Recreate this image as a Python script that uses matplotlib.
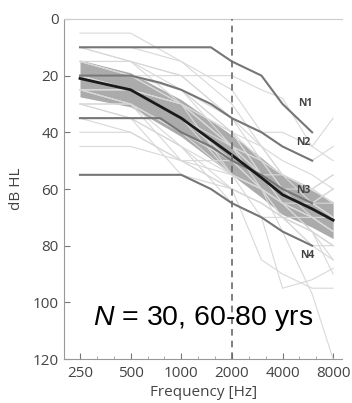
import numpy as np
import matplotlib
matplotlib.use('Agg')
import matplotlib.pyplot as plt
from matplotlib.ticker import FixedLocator, NullFormatter

plt.rcParams['font.family'] = ['Open Sans', 'DejaVu Sans']
plt.rcParams['mathtext.fontset'] = 'custom'
plt.rcParams['mathtext.it'] = 'Liberation Sans:italic'
plt.rcParams['mathtext.rm'] = 'Liberation Sans'

# audiogram frequencies of the individual listeners (Hz)
freqs = [250, 500, 1000, 2000, 3000, 4000, 6000, 8000]

# thresholds of the 30 listeners (dB HL)
listeners = [
    [5, 5, 15, 30, 45, 55, 60, 65],
    [10, 15, 20, 35, 50, 60, 65, 70],
    [15, 15, 25, 45, 55, 60, 70, 75],
    [20, 20, 20, 20, 25, 28, 45, 50],
    [20, 25, 30, 40, 55, 65, 70, 75],
    [25, 30, 40, 50, 55, 60, 65, 60],
    [25, 25, 35, 55, 60, 65, 75, 80],
    [30, 30, 50, 60, 65, 70, 70, 75],
    [40, 40, 50, 50, 55, 60, 65, 70],
    [45, 45, 50, 55, 60, 70, 80, 85],
    [15, 20, 30, 45, 60, 75, 97, 120],
    [20, 25, 35, 45, 55, 65, 75, 90],
    [25, 30, 40, 55, 70, 95, 92, 88],
    [30, 35, 45, 60, 85, 90, 95, 95],
    [10, 10, 15, 25, 40, 40, 45, 35],
    [15, 20, 25, 40, 50, 55, 60, 55],
    [20, 20, 30, 40, 45, 50, 55, 60],
    [25, 25, 35, 50, 60, 65, 70, 75],
    [30, 30, 40, 50, 55, 55, 60, 65],
    [35, 35, 45, 55, 60, 65, 70, 70],
    [20, 25, 30, 45, 50, 60, 65, 65],
    [15, 15, 30, 55, 60, 65, 65, 70],
    [25, 30, 45, 65, 70, 70, 75, 80],
    [20, 20, 25, 35, 45, 55, 60, 65],
    [10, 15, 20, 35, 40, 45, 50, 45],
    [30, 35, 55, 60, 65, 70, 75, 80],
    [20, 25, 35, 50, 60, 70, 75, 85],
    [25, 25, 30, 45, 50, 55, 65, 60],
    [15, 20, 25, 40, 55, 60, 60, 55],
    [35, 40, 50, 60, 65, 70, 80, 80],
]

# group mean and standard deviation
mean_thr = [21, 25, 35, 48, 56, 62, 67, 71]
sd_thr = [6.5, 6, 6.5, 7, 7, 7, 6.5, 6.5]

# standard audiograms N1-N4
std_freqs = [250, 375, 500, 750, 1000, 1500, 2000, 3000, 4000, 6000]
std_audiograms = {
    'N1': [10, 10, 10, 10, 10, 10, 15, 20, 30, 40],
    'N2': [20, 20, 20, 22.5, 25, 30, 35, 40, 45, 50],
    'N3': [35, 35, 35, 35, 40, 45, 50, 55, 60, 65],
    'N4': [55, 55, 55, 55, 55, 60, 65, 70, 75, 80],
}
label_pos = {'N1': (5450, 30), 'N2': (5350, 43.5), 'N3': (5350, 60.5), 'N4': (5650, 83.5)}

xticks = [250, 500, 1000, 2000, 4000, 8000]
yticks = [0, 20, 40, 60, 80, 100, 120]

fig = plt.figure(figsize=(3.52, 4.03), dpi=100)
ax = fig.add_axes([0.182, 0.109, 0.79, 0.844])

mean_arr = np.array(mean_thr)
sd_arr = np.array(sd_thr)
ax.fill_between(freqs, mean_arr - sd_arr, mean_arr + sd_arr, color='#ababab', lw=0, zorder=1)
for thr in listeners:
    ax.plot(freqs, thr, color='#d8d8d8', lw=0.8, zorder=2)
for name, thr in std_audiograms.items():
    ax.plot(std_freqs, thr, color='#767676', lw=1.5, zorder=3)
    lx, ly = label_pos[name]
    ax.text(lx, ly, name, fontsize=7.5, color='#444444', ha='center', va='center',
            fontweight='bold', zorder=5)
ax.plot(freqs, mean_thr, color='#1a1a1a', lw=2, zorder=4)
ax.axvline(2000, color='#6a6a6a', lw=1.2, ls=(0, (4, 3)), zorder=4)

ax.set_xscale('log', base=2)
ax.set_xlim(201, 9050)
ax.set_ylim(120, 0)
ax.xaxis.set_major_locator(FixedLocator(xticks))
ax.set_xticklabels([str(t) for t in xticks])
minor = [250 * 2 ** (k / 3) for k in range(0, 16)]
ax.xaxis.set_minor_locator(FixedLocator(minor))
ax.xaxis.set_minor_formatter(NullFormatter())
ax.yaxis.set_major_locator(FixedLocator(yticks))

ax.tick_params(axis='both', which='major', direction='in', length=4, width=0.8,
               color='#777777', labelsize=11, labelcolor='#444444')
ax.tick_params(axis='x', which='minor', direction='in', length=2, width=0.6, color='#999999')
ax.tick_params(axis='x', pad=5)
ax.tick_params(axis='y', pad=4)

ax.spines['right'].set_visible(False)
ax.spines['top'].set_color('#cccccc')
ax.spines['left'].set_color('#999999')
ax.spines['bottom'].set_color('#999999')

ax.set_xlabel('Frequency [Hz]', fontsize=11, color='#444444', labelpad=3)
ax.set_ylabel('dB HL', fontsize=11, color='#444444', labelpad=6)

ax.text(0.5, 0.12, r'$\mathit{N}$ = 30, 60-80 yrs', transform=ax.transAxes,
        fontsize=20.5, family='Liberation Sans', ha='center', va='center', zorder=6)

fig.savefig('out.png', dpi=100)
